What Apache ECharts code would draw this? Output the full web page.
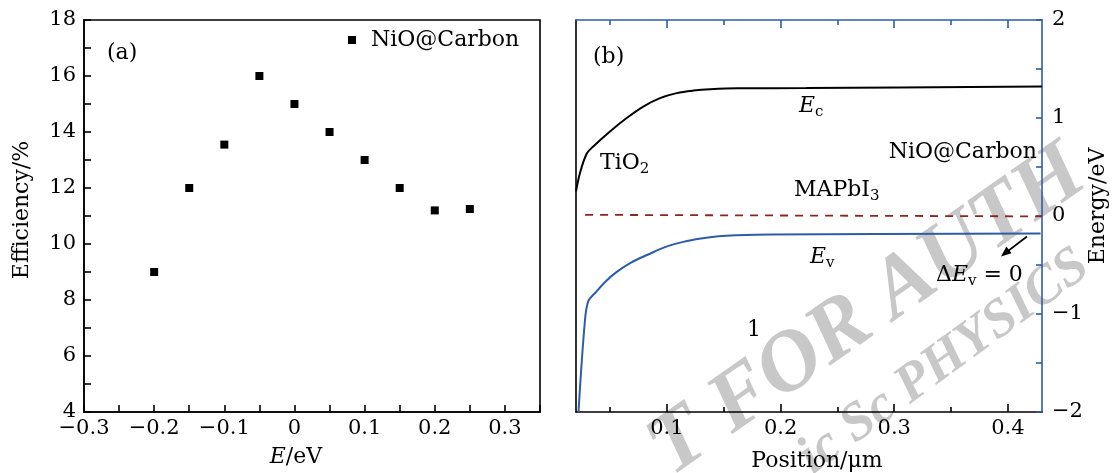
<!DOCTYPE html>
<html>
<head>
<meta charset="utf-8">
<title>Efficiency and band diagram</title>
<script src="https://cdn.jsdelivr.net/npm/echarts@6/dist/echarts.min.js"></script>
<style>
  html, body { margin: 0; padding: 0; background: #fff; }
  #chart { width: 1112px; height: 473px; }
</style>
</head>
<body>
<div id="chart"></div>
<script>
// ---- Panel (a): efficiency against the band offset E ----
const offsetE    = [-0.2, -0.15, -0.1, -0.05, 0, 0.05, 0.1, 0.15, 0.2, 0.25];
const efficiency = [9, 12, 13.55, 16, 15, 14, 13, 12, 11.2, 11.25];
const offsetTicks  = [-0.3, -0.25, -0.2, -0.15, -0.1, -0.05, 0, 0.05, 0.1, 0.15, 0.2, 0.25, 0.3, 0.35];
const offsetLabels = [-0.3, -0.2, -0.1, 0, 0.1, 0.2, 0.3];
const effTicks  = [4, 5, 6, 7, 8, 9, 10, 11, 12, 13, 14, 15, 16, 17, 18];
const effLabels = [4, 6, 8, 10, 12, 14, 16, 18];

// ---- Panel (b): band diagram across the device ----
const ecPos    = [0.020, 0.0235, 0.0294, 0.0352, 0.0499, 0.0646, 0.0792, 0.0939, 0.1086, 0.1233, 0.138, 0.162, 0.2225, 0.43];
const ecEnergy = [0.252, 0.439, 0.635, 0.710, 0.863, 1.000, 1.117, 1.203, 1.254, 1.280, 1.294, 1.304, 1.305, 1.321];
const evPos    = [0.0222, 0.0277, 0.0308, 0.0370, 0.0463, 0.0556, 0.0680, 0.0835, 0.0989, 0.1144, 0.1299, 0.1454, 0.1609, 0.1918, 0.4287];
const evEnergy = [-2.0, -1.089, -0.869, -0.783, -0.665, -0.573, -0.478, -0.393, -0.315, -0.264, -0.230, -0.207, -0.197, -0.189, -0.179];
const efPos    = [0.028, 0.43];
const efEnergy = [0.012, -0.004];
const posMajorTicks = [0.1, 0.2, 0.3, 0.4];
const posMinorTicks = [0.05, 0.15, 0.25, 0.35];
const energyTicks  = [-2, -1.5, -1, -0.5, 0, 0.5, 1, 1.5, 2];
const energyLabels = [-2, -1, 0, 1, 2];

const FONT = '"DejaVu Serif", serif';
const SIZE = 22;      // annotations and axis titles
const TICK = 21;      // tick labels
const SUB = 15;       // subscripts
const BLUE = '#2d5ca9';
const RED = '#8c2424';
const LW = 1.6;

const pairs = (xs, ys) => xs.map((x, i) => [x, ys[i]]);
function num(v, digits) {
  if (Math.abs(v) < 1e-9) return '0';
  return (v < 0 ? '\u2212' : '') + Math.abs(v).toFixed(digits);
}

// text runs made of upright / italic / subscript pieces
const meas = document.createElement('canvas').getContext('2d');
function fontOf(p) {
  return (p.italic ? 'italic ' : '') + (p.sub ? SUB : SIZE) + 'px ' + FONT;
}
function run(x, y, parts, align) {
  const widths = parts.map(p => { meas.font = fontOf(p); return meas.measureText(p.t).width; });
  const total = widths.reduce((a, b) => a + b, 0);
  let cx = align === 'center' ? x - total / 2 : (align === 'right' ? x - total : x);
  return parts.map((p, i) => {
    const el = {
      type: 'text', x: cx, y: y + (p.sub ? 6 : 0), silent: true,
      style: { text: p.t, font: fontOf(p), fill: '#000', align: 'left', verticalAlign: 'middle',
               textAlign: 'left', textVerticalAlign: 'middle' }
    };
    cx += widths[i];
    return el;
  });
}
function rotated(cx, cy, parts) {
  return { type: 'group', x: cx, y: cy, rotation: Math.PI / 2, children: run(0, 0, parts, 'center') };
}

const labelStyle = { color: '#000', fontFamily: FONT, fontSize: TICK };
const noSplit = { show: false };

// background lettering
const wmFill = '#c8c8c8';
const watermark = [
  { type: 'text', x: 868, y: 312, rotation: 35 * Math.PI / 180, z: -10, silent: true,
    style: { text: 'T FOR AUTH', font: 'italic bold 86px "Liberation Serif", serif', fill: wmFill,
             align: 'center', verticalAlign: 'middle', textAlign: 'center', textVerticalAlign: 'middle' } },
  { type: 'text', x: 944, y: 362, rotation: 36 * Math.PI / 180, z: -10, silent: true,
    style: { text: 'ic Sc PHYSICS', font: 'italic bold 54px "Liberation Serif", serif', fill: wmFill,
             align: 'center', verticalAlign: 'middle', textAlign: 'center', textVerticalAlign: 'middle' } }
];

// arrow pointing at the valence band step
const arrow = [
  { type: 'line', silent: true, shape: { x1: 1027, y1: 236.5, x2: 1008, y2: 251 },
    style: { stroke: '#000', lineWidth: 1.6 } },
  { type: 'polygon', silent: true, shape: { points: [[1001, 256.5], [1011.5, 253.3], [1006.4, 246.6]] },
    style: { fill: '#000' } }
];

const texts = [].concat(
  run(107, 53, [{ t: '(a)' }]),
  run(593, 57, [{ t: '(b)' }]),
  run(600, 163, [{ t: 'TiO' }, { t: '2', sub: true }]),
  run(799, 106, [{ t: 'E', italic: true }, { t: 'c', sub: true }]),
  run(1037, 152, [{ t: 'NiO@Carbon' }], 'right'),
  run(794, 190, [{ t: 'MAPbI' }, { t: '3', sub: true }]),
  run(810, 257, [{ t: 'E', italic: true }, { t: 'v', sub: true }]),
  run(936, 275, [{ t: '\u0394' }, { t: 'E', italic: true }, { t: 'v', sub: true }, { t: ' = 0' }]),
  run(747, 330, [{ t: '1' }]),
  run(296, 457, [{ t: 'E', italic: true }, { t: '/eV' }], 'center'),
  run(817, 461, [{ t: 'Position/\u03bcm' }], 'center'),
  [rotated(22, 210, [{ t: 'Efficiency/%' }])],
  [rotated(1098, 206, [{ t: 'Energy/eV' }])]
);

const chart = echarts.init(document.getElementById('chart'), null, { renderer: 'canvas' });

chart.setOption({
  animation: false,
  backgroundColor: '#fff',
  grid: [
    { left: 84, top: 20, width: 456, height: 392, show: true, borderColor: '#000', borderWidth: LW, backgroundColor: 'transparent' },
    { left: 576, top: 20, width: 466, height: 392 }
  ],
  legend: {
    data: ['NiO@Carbon'], left: 348, top: 29, padding: 0, icon: 'rect',
    itemWidth: 8, itemHeight: 8, selectedMode: false,
    itemStyle: { opacity: 1 },
    textStyle: { color: '#000', fontFamily: FONT, fontSize: SIZE, padding: [0, 0, 0, 10] }
  },
  xAxis: [
    { // panel (a) bottom
      type: 'value', gridIndex: 0, position: 'bottom', min: -0.3, max: 0.35,
      axisLine: { onZero: false, lineStyle: { color: '#000', width: LW } },
      axisTick: { inside: true, length: 7, customValues: offsetTicks, lineStyle: { color: '#000', width: LW } },
      axisLabel: Object.assign({ customValues: offsetLabels, margin: 6, formatter: v => num(v, 1) }, labelStyle),
      splitLine: noSplit
    },
    { // panel (b) bottom, labelled ticks
      type: 'value', gridIndex: 1, position: 'bottom', min: 0.02, max: 0.43,
      axisLine: { onZero: false, lineStyle: { color: '#000', width: LW } },
      axisTick: { inside: true, length: 8, customValues: posMajorTicks, lineStyle: { color: '#000', width: LW } },
      axisLabel: Object.assign({ customValues: posMajorTicks, margin: 6, formatter: v => num(v, 1) }, labelStyle),
      splitLine: noSplit
    },
    { // panel (b) bottom, short ticks
      type: 'value', gridIndex: 1, position: 'bottom', min: 0.02, max: 0.43,
      axisLine: { show: false, onZero: false },
      axisTick: { inside: true, length: 5, customValues: posMinorTicks, lineStyle: { color: '#000', width: LW } },
      axisLabel: { show: false }, splitLine: noSplit
    },
    { // panel (b) top, long ticks
      type: 'value', gridIndex: 1, position: 'top', min: 0.02, max: 0.43,
      axisLine: { onZero: false, lineStyle: { color: BLUE, width: LW } },
      axisTick: { inside: true, length: 8, customValues: posMajorTicks, lineStyle: { color: BLUE, width: LW } },
      axisLabel: { show: false }, splitLine: noSplit
    },
    { // panel (b) top, short ticks
      type: 'value', gridIndex: 1, position: 'top', min: 0.02, max: 0.43,
      axisLine: { show: false, onZero: false },
      axisTick: { inside: true, length: 5, customValues: posMinorTicks, lineStyle: { color: BLUE, width: LW } },
      axisLabel: { show: false }, splitLine: noSplit
    }
  ],
  yAxis: [
    { // panel (a)
      type: 'value', gridIndex: 0, position: 'left', min: 4, max: 18,
      axisLine: { onZero: false, lineStyle: { color: '#000', width: LW } },
      axisTick: { inside: true, length: 7, customValues: effTicks, lineStyle: { color: '#000', width: LW } },
      axisLabel: Object.assign({ customValues: effLabels, margin: 8 }, labelStyle),
      splitLine: noSplit
    },
    { // panel (b) left edge
      type: 'value', gridIndex: 1, position: 'left', min: -2, max: 2,
      axisLine: { onZero: false, lineStyle: { color: '#000', width: LW } },
      axisTick: { show: false }, axisLabel: { show: false }, splitLine: noSplit
    },
    { // panel (b) energy scale
      type: 'value', gridIndex: 1, position: 'right', min: -2, max: 2,
      axisLine: { onZero: false, lineStyle: { color: BLUE, width: LW } },
      axisTick: { inside: true, length: 6, customValues: energyTicks, lineStyle: { color: BLUE, width: LW } },
      axisLabel: Object.assign({ customValues: energyLabels, margin: 10, formatter: v => num(v, 0) }, labelStyle),
      splitLine: noSplit
    }
  ],
  series: [
    {
      name: 'NiO@Carbon', type: 'scatter', xAxisIndex: 0, yAxisIndex: 0,
      data: pairs(offsetE, efficiency), symbol: 'rect', symbolSize: 8,
      itemStyle: { color: '#000', opacity: 1 }, z: 5
    },
    {
      name: 'Ec', type: 'line', xAxisIndex: 1, yAxisIndex: 2,
      data: pairs(ecPos, ecEnergy), showSymbol: false, symbol: 'none',
      smooth: 0.35,
      lineStyle: { color: '#000', width: 2 }, z: 4
    },
    {
      name: 'Ev', type: 'line', xAxisIndex: 1, yAxisIndex: 2,
      data: pairs(evPos, evEnergy), showSymbol: false, symbol: 'none',
      smooth: 0.35,
      lineStyle: { color: BLUE, width: 2 }, z: 4
    },
    {
      name: 'EF', type: 'line', xAxisIndex: 1, yAxisIndex: 2,
      data: pairs(efPos, efEnergy), showSymbol: false, symbol: 'none',
      lineStyle: { color: RED, width: 1.8, type: [8, 7] }, z: 4
    }
  ],
  graphic: { elements: watermark.concat(texts, arrow) }
});
</script>
</body>
</html>
